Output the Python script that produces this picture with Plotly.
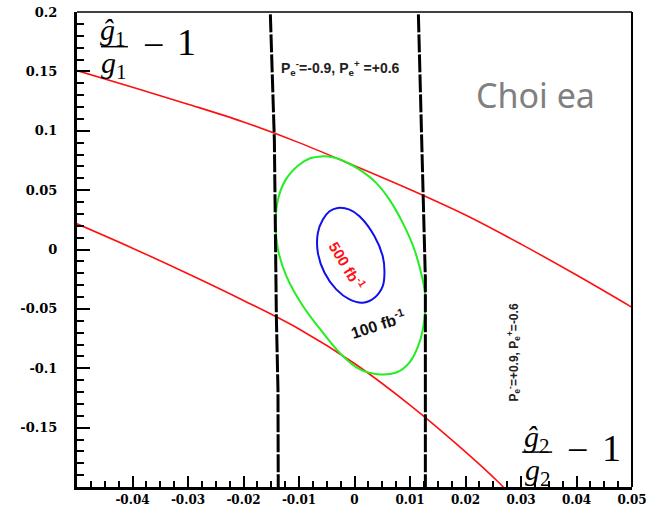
import plotly.graph_objects as go

# ---------------- data ----------------
# upper red band edge
red_upper_x = [-0.05, -0.04, -0.03, -0.02, -0.01, 0.0, 0.01, 0.02, 0.03, 0.04, 0.05]
red_upper_y = [0.1507, 0.1367, 0.1224, 0.1074, 0.0900, 0.0705, 0.0505, 0.0290, 0.0045, -0.0215, -0.0487]

# lower red band edge
red_lower_x = [-0.05, -0.04, -0.03, -0.02, -0.01, 0.0, 0.01, 0.02, 0.026, 0.027]
red_lower_y = [0.0216, 0.0011, -0.0204, -0.0429, -0.0669, -0.0960, -0.1310, -0.1704, -0.1962, -0.2010]

# black dashed vertical bounds
black_left_x = [-0.01516, -0.01444, -0.01408, -0.01379, -0.01374]
black_left_y = [0.198, 0.0924, -0.057, -0.118, -0.2]
black_right_x = [0.01151, 0.0121, 0.01277, 0.01277]
black_right_y = [0.198, 0.092, -0.025, -0.2]

# 100 fb^-1 contour (green)
green_x = [-0.00599, -0.00390, -0.00149, 0.00090, 0.00390, 0.00629, 0.00869, 0.01079, 0.01228,
           0.01277, 0.01259, 0.01169, 0.00989, 0.00750, 0.00419, 0.00090, -0.00210, -0.00570,
           -0.00930, -0.01228, -0.01379, -0.01421, -0.01379, -0.01250, -0.01020, -0.00800, -0.00599]
green_y = [0.0784, 0.0776, 0.0735, 0.0672, 0.0561, 0.0420, 0.0224, 0.0, -0.0252,
           -0.0392, -0.0588, -0.0784, -0.0952, -0.1036, -0.1050, -0.1008, -0.0897, -0.0700,
           -0.0476, -0.0224, 0.0, 0.0224, 0.0420, 0.0580, 0.0705, 0.0768, 0.0784]

# 500 fb^-1 contour (blue)
blue_x = [-0.00300, -0.00090, 0.00090, 0.00360, 0.00509, 0.00540, 0.00509, 0.00360, 0.00149,
          -0.00090, -0.00329, -0.00540, -0.00660, -0.00660, -0.00570, -0.00450, -0.00300]
blue_y = [0.0350, 0.0336, 0.0280, 0.0112, -0.0056, -0.0196, -0.0308, -0.0406, -0.0448,
          -0.0420, -0.0336, -0.0196, -0.0028, 0.0140, 0.0252, 0.0322, 0.0350]

x_tickvals = [-0.04, -0.03, -0.02, -0.01, 0, 0.01, 0.02, 0.03, 0.04, 0.05]
x_ticktext = ["-0.04", "-0.03", "-0.02", "-0.01", "0", "0.01", "0.02", "0.03", "0.04", "0.05"]
y_tickvals = [-0.15, -0.1, -0.05, 0, 0.05, 0.1, 0.15, 0.2]
y_ticktext = ["-0.15", "-0.1", "-0.05", "0", "0.05", "0.1", "0.15", "0.2"]

# ---------------- figure ----------------
fig = go.Figure()

fig.add_trace(go.Scatter(x=red_upper_x, y=red_upper_y, mode="lines", line=dict(color="#ff1010", width=1.6, shape="spline"), showlegend=False))
fig.add_trace(go.Scatter(x=red_lower_x, y=red_lower_y, mode="lines", line=dict(color="#ff1010", width=1.6, shape="spline"), showlegend=False))
fig.add_trace(go.Scatter(x=green_x, y=green_y, mode="lines", line=dict(color="#22ee22", width=2, shape="spline"), showlegend=False))
fig.add_trace(go.Scatter(x=blue_x, y=blue_y, mode="lines", line=dict(color="#1010ee", width=2, shape="spline"), showlegend=False))
fig.add_trace(go.Scatter(x=black_left_x, y=black_left_y, mode="lines", line=dict(color="black", width=3, dash="18px,2px"), showlegend=False))
fig.add_trace(go.Scatter(x=black_right_x, y=black_right_y, mode="lines", line=dict(color="black", width=3, dash="18px,2px"), showlegend=False))

xtickfont = dict(family="DejaVu Serif", size=12, color="black", weight="bold")
ytickfont = dict(family="DejaVu Serif", size=13, color="black", weight="bold")

fig.update_xaxes(range=[-0.05, 0.05], tickmode="array", tickvals=x_tickvals, ticktext=x_ticktext,
                 ticks="inside", ticklen=11, tickwidth=2, tickcolor="black", automargin=False,
                 showline=True, linecolor="black", linewidth=3, showgrid=False, zeroline=False,
                 tickfont=xtickfont, ticklabelstandoff=0,
                 minor=dict(tickmode="linear", tick0=0, dtick=0.0025, ticks="inside", ticklen=6, tickwidth=2, tickcolor="black", showgrid=False))
fig.update_yaxes(range=[-0.2, 0.2], tickmode="array", tickvals=y_tickvals, ticktext=y_ticktext,
                 ticks="inside", ticklen=13, tickwidth=2, tickcolor="black", automargin=False,
                 showline=True, linecolor="black", linewidth=3, showgrid=False, zeroline=False,
                 tickfont=ytickfont, ticklabelstandoff=14,
                 minor=dict(tickmode="linear", tick0=0, dtick=0.01, ticks="inside", ticklen=7, tickwidth=2, tickcolor="black", showgrid=False))

# frame top/right (thinner)
fig.add_shape(type="line", xref="paper", yref="paper", x0=0, x1=1, y0=1, y1=1, line=dict(color="black", width=1.5))
fig.add_shape(type="line", xref="paper", yref="paper", x0=1, x1=1, y0=0, y1=1, line=dict(color="black", width=2))

ann = []
ann.append(dict(x=-0.00252, y=0.1529, text="P<sub>e</sub><sup>-</sup>=-0.9, P<sub>e</sub><sup>+</sup> =+0.6",
                font=dict(family="Liberation Sans", size=14, color="#222", weight="bold")))
ann.append(dict(x=0.02878, y=-0.0866, text="P<sub>e</sub><sup>-</sup>=+0.9, P<sub>e</sub><sup>+</sup>=-0.6", textangle=-90,
                font=dict(family="Liberation Sans", size=12, color="#222", weight="bold")))
ann.append(dict(x=-0.00121, y=-0.0134, text="500 fb<sup>-1</sup>", textangle=59,
                font=dict(family="Liberation Sans", size=15, color="#ff1010", weight="bold")))
ann.append(dict(x=0.00419, y=-0.0630, text="100 fb<sup>-1</sup>", textangle=-18,
                font=dict(family="Liberation Sans", size=16, color="#111", weight="bold")))
ann.append(dict(x=0.03255, y=0.1303, text="Choi ea",
                font=dict(family="Noto Sans", size=34, color="#808080")))

mathfont = dict(family="Liberation Serif", size=30, color="black")
bigfont = dict(family="Liberation Serif", size=38, color="black")
# top-left fraction
ann.append(dict(x=-0.04353, y=0.1830, text="<i>ĝ</i><sub>1</sub>", font=mathfont))
ann.append(dict(x=-0.04330, y=0.1552, text="<i>g</i><sub>1</sub>", font=mathfont))
ann.append(dict(x=-0.03615, y=0.1720, text="−", font=bigfont))
ann.append(dict(x=-0.03022, y=0.1745, text="1", font=bigfont))
# bottom-right fraction
ann.append(dict(x=0.03291, y=-0.1599, text="<i>ĝ</i><sub>2</sub>", font=mathfont))
ann.append(dict(x=0.03310, y=-0.1876, text="<i>g</i><sub>2</sub>", font=mathfont))
ann.append(dict(x=0.04011, y=-0.1692, text="−", font=bigfont))
ann.append(dict(x=0.04622, y=-0.1672, text="1", font=bigfont))

for a in ann:
    a.update(xref="x", yref="y", showarrow=False, xanchor="center", yanchor="middle")
    fig.add_annotation(**a)

fig.add_shape(type="line", xref="x", yref="y", x0=-0.04568, x1=-0.04083, y0=0.1708, y1=0.1708, line=dict(color="black", width=1.5))
fig.add_shape(type="line", xref="x", yref="y", x0=0.03022, x1=0.03561, y0=-0.1706, y1=-0.1706, line=dict(color="black", width=1.5))

fig.update_layout(width=652, height=508, margin=dict(l=77, r=20, t=12, b=21),
                  paper_bgcolor="white", plot_bgcolor="white")

fig.write_html("out.html")
